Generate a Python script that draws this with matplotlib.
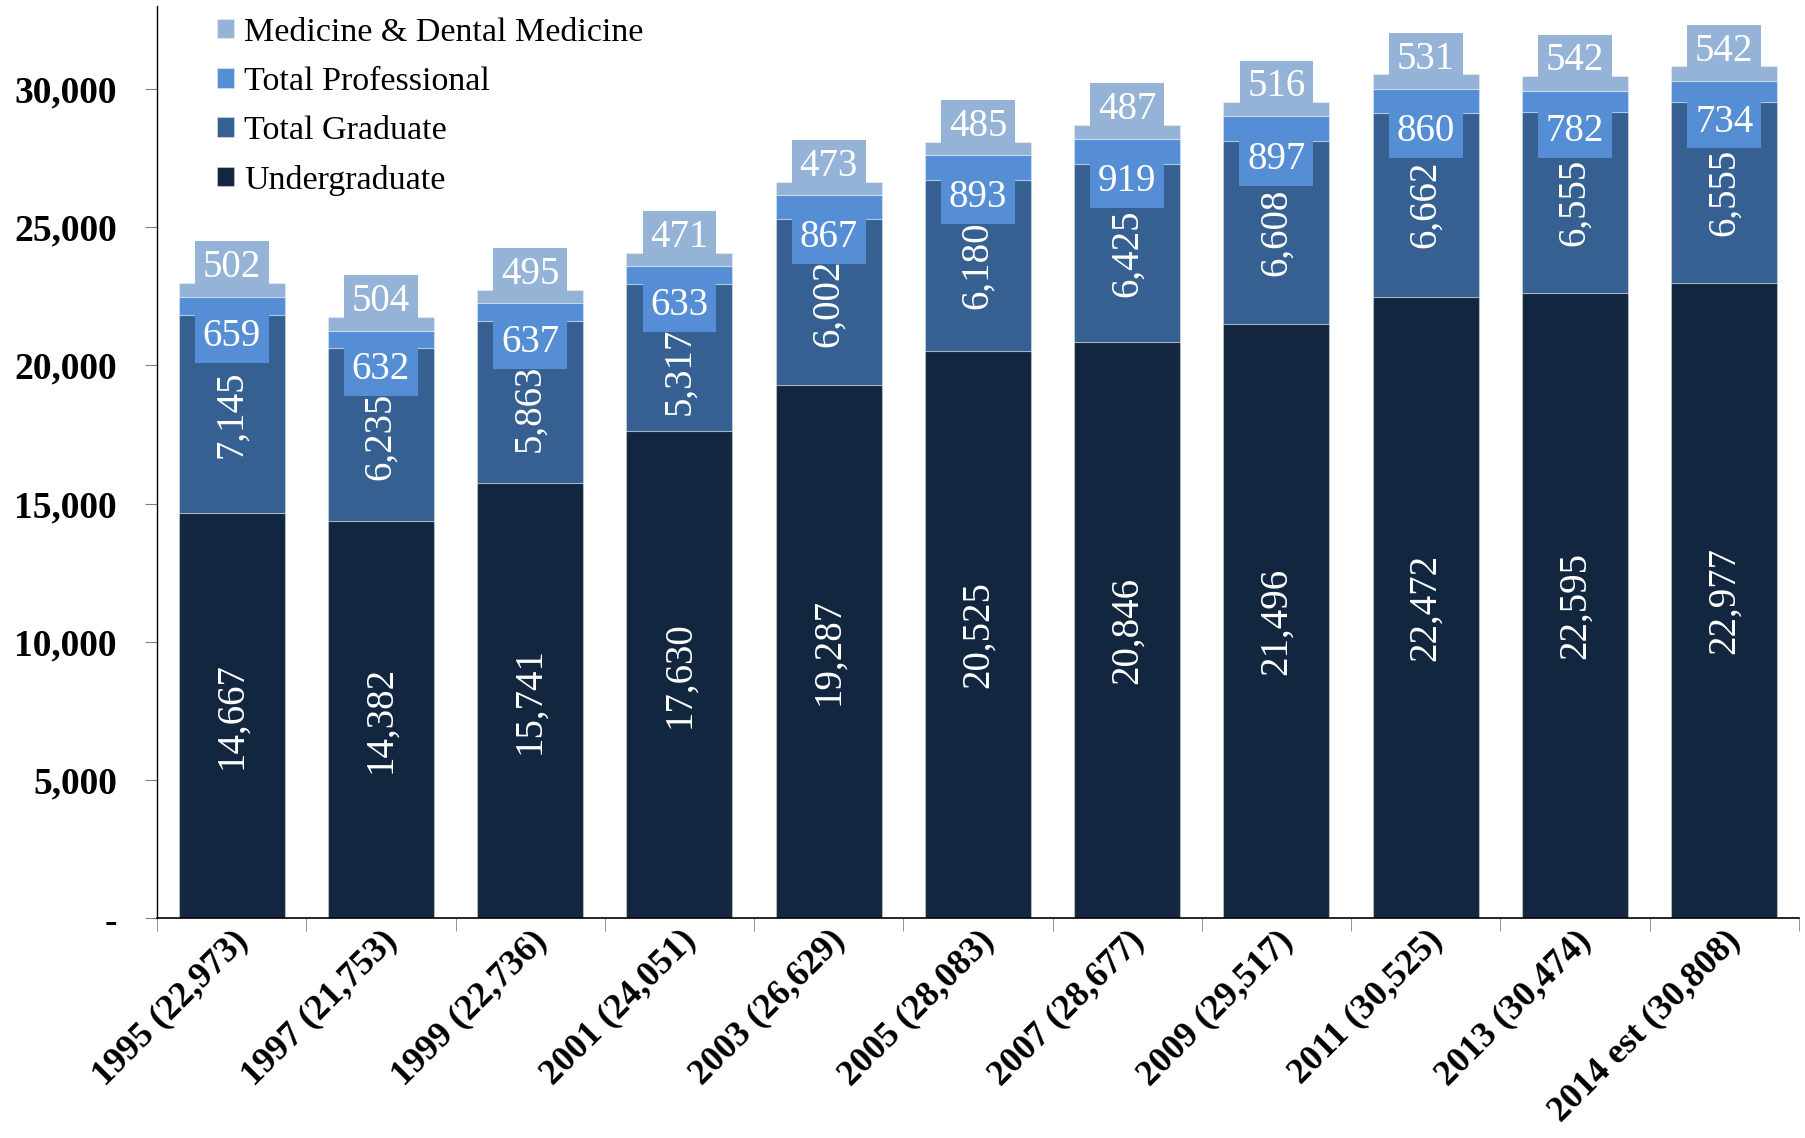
import matplotlib
matplotlib.use("Agg")
import numpy as np
import matplotlib.pyplot as plt

# ---------------------------------------------------------------
# Enrollment by level, stacked bars

years = ["1995", "1997", "1999", "2001", "2003", "2005", "2007",
         "2009", "2011", "2013", "2014 est"]
undergrad = [14667, 14382, 15741, 17630, 19287, 20525, 20846,
             21496, 22472, 22595, 22977]
graduate = [7145, 6235, 5863, 5317, 6002, 6180, 6425,
            6608, 6662, 6555, 6555]
professional = [659, 632, 637, 633, 867, 893, 919,
                897, 860, 782, 734]
medicine = [502, 504, 495, 471, 473, 485, 487,
            516, 531, 542, 542]

series_names = ["Undergraduate", "Total Graduate", "Total Professional",
                "Medicine & Dental Medicine"]
colors = ["#13263F", "#376092", "#558ED5", "#95B3D7"]

plt.rcParams['font.family'] = ['Liberation Serif', 'DejaVu Serif']

DPI = 100
fig = plt.figure(figsize=(18.06, 11.38), dpi=DPI)
ax = fig.add_axes([0.087, 0.193, 0.909, 0.802])

x = np.arange(len(years))
width = 0.71
series = [undergrad, graduate, professional, medicine]
bottoms = np.zeros(len(years))
bars = []
for vals, name, col in zip(series, series_names, colors):
    ax.bar(x, vals, width, bottom=bottoms, color=col, label=name,
           edgecolor=(1, 1, 1, 0.35), linewidth=0.8)
    bars.append((np.array(vals), bottoms.copy(), col))
    bottoms = bottoms + np.array(vals)

totals = bottoms

# data labels
lab_fs = 28
labels = {}
for k, (vals, bots, col) in enumerate(bars):
    for i in range(len(years)):
        yc = bots[i] + vals[i] / 2
        txt = f"{vals[i]:,}"
        if k < 2:
            t = ax.annotate(txt, (x[i], yc), xytext=(0, 0),
                            textcoords='offset points', rotation=90,
                            ha='center', va='center', color='white',
                            fontsize=lab_fs)
        else:
            off = -22 if k == 2 else 16
            t = ax.annotate(txt, (x[i], yc), xytext=(0, off),
                            textcoords='offset points', ha='center',
                            va='center', color='white', fontsize=lab_fs,
                            bbox=dict(boxstyle='square,pad=0.2', fc=col,
                                      ec='none'))
        labels[(k, i)] = t

ax.set_xlim(-0.5, len(years) - 0.5)
ax.set_ylim(0, 33000)

ax.set_yticks(np.arange(0, 30001, 5000))
ax.set_yticklabels(["-"] + [f"{v:,}" for v in range(5000, 30001, 5000)],
                   fontsize=27, fontweight='bold')

ax.set_xticks(x)
ax.set_xticklabels([f"{y} ({t:,.0f})" for y, t in zip(years, totals)],
                   rotation=45, ha='right', rotation_mode='anchor',
                   fontsize=26, fontweight='bold')
ax.set_xticks(np.arange(-0.5, len(years)), minor=True)
ax.tick_params(axis='x', which='major', length=0, pad=4)
ax.tick_params(axis='x', which='minor', length=9, color='#808080',
               direction='out')
ax.tick_params(axis='y', length=9, color='#808080', direction='out', pad=20)

for s in ['top', 'right']:
    ax.spines[s].set_visible(False)
ax.spines['left'].set_linewidth(1.0)
ax.spines['bottom'].set_linewidth(1.2)

handles, leg_labels = ax.get_legend_handles_labels()
ax.legend(handles[::-1], leg_labels[::-1], loc='upper left',
          bbox_to_anchor=(0.026, 1.006), frameon=False, fontsize=24.5,
          handlelength=0.5, handleheight=0.5, handletextpad=0.3,
          labelspacing=0.55, borderpad=0)

# push graduate labels down when they run into the professional box
fig.canvas.draw()
r = fig.canvas.get_renderer()
for i in range(len(years)):
    grad = labels[(1, i)]
    prof = labels[(2, i)]
    g_top = grad.get_window_extent(r).y1
    p_bot = prof.get_bbox_patch().get_window_extent(r).y0
    gap = -4
    if g_top > p_bot - gap:
        shift = (g_top - (p_bot - gap)) * 72 / DPI
        grad.xyann = (0, -shift)

fig.savefig("out.png", dpi=DPI)
